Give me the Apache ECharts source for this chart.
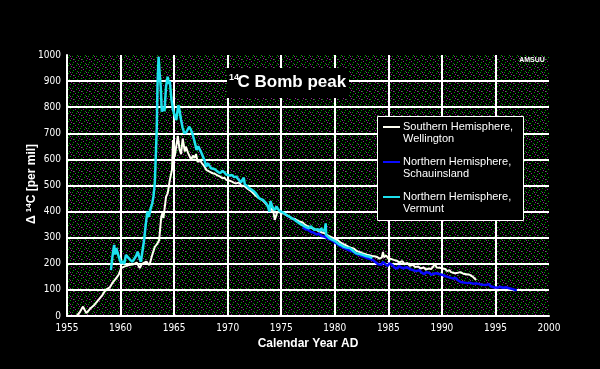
<!DOCTYPE html>
<html>
<head>
<meta charset="utf-8">
<script src="https://cdn.jsdelivr.net/npm/echarts@6/dist/echarts.min.js"></script>
<style>
html,body{margin:0;padding:0;background:#000;}
#c{width:600px;height:369px;}
</style>
</head>
<body>
<div id="c"></div>
<script>
// ---- Data ----
const wellingtonYears = [1955.9,1956.2,1956.5,1956.8,1957.0,1957.2,1957.5,1957.7,1958.0,1958.3,1958.6,1959.0,1959.3,1959.6,1959.85,1960.05,1960.4,1960.8,1961.2,1961.5,1961.8,1962.0,1962.4,1962.7,1963.0,1963.2,1963.4,1963.6,1963.8,1963.9,1964.0,1964.25,1964.4,1964.6,1964.8,1964.9,1965.05,1965.2,1965.35,1965.5,1965.65,1965.8,1966.0,1966.1,1966.3,1966.6,1966.75,1966.9,1967.05,1967.2,1967.4,1967.6,1967.8,1968.0,1968.15,1968.3,1968.45,1968.6,1968.8,1969.0,1969.15,1969.3,1969.5,1969.7,1969.85,1970.0,1970.2,1970.4,1970.6,1970.8,1970.95,1971.1,1971.25,1971.4,1971.55,1971.7,1971.85,1972.0,1972.2,1972.4,1972.6,1972.8,1973.0,1973.2,1973.4,1973.6,1973.8,1974.0,1974.2,1974.4,1974.6,1974.8,1975.0,1975.2,1975.4,1975.6,1975.8,1976.0,1976.3,1976.5,1976.7,1977.0,1977.2,1977.4,1977.6,1977.8,1978.0,1978.3,1978.5,1978.8,1979.0,1979.3,1979.5,1979.8,1980.0,1980.3,1980.5,1980.8,1981.0,1981.3,1981.5,1981.8,1982.0,1982.3,1982.5,1982.8,1983.0,1983.3,1983.5,1983.8,1984.0,1984.2,1984.4,1984.5,1984.6,1984.8,1985.0,1985.3,1985.5,1985.8,1986.0,1986.3,1986.5,1986.8,1987.0,1987.3,1987.5,1987.8,1988.0,1988.3,1988.5,1988.8,1989.0,1989.1,1989.2,1989.35,1989.5,1989.65,1989.8,1990.0,1990.3,1990.5,1990.7,1990.85,1991.0,1991.2,1991.5,1991.7,1992.0,1992.15,1992.3,1992.45,1992.6,1992.75,1992.9,1993.05,1993.2];
const wellingtonValues = [0,15,36,11,20,30,40,50,65,80,100,110,130,145,160,184,190,195,198,205,184,200,208,195,240,265,275,290,380,394,375,457,470,521,560,674,610,617,690,640,620,680,630,649,625,598,615,605,620,590,598,585,575,560,566,553,558,547,545,540,536,534,528,530,522,527,518,515,510,508,514,512,500,506,498,495,488,482,478,470,462,455,450,445,438,428,420,405,415,368,395,400,392,395,388,385,380,374,372,365,362,358,350,345,342,338,334,330,325,320,318,310,305,300,294,290,282,275,272,265,262,258,250,245,242,238,235,232,230,228,225,220,225,245,225,232,220,218,215,212,205,210,200,203,192,196,188,190,182,186,178,182,180,185,190,200,186,193,185,183,180,172,176,168,170,164,166,168,162,165,160,164,158,155,150,144,138,130];

const schauinslandYears = [1977.0,1977.3,1977.5,1977.8,1978.0,1978.3,1978.5,1978.8,1979.0,1979.3,1979.5,1979.8,1980.0,1980.3,1980.5,1980.8,1981.0,1981.3,1981.5,1981.8,1982.0,1982.3,1982.5,1982.8,1983.0,1983.3,1983.55,1983.75,1983.9,1984.05,1984.2,1984.35,1984.5,1984.65,1984.8,1984.95,1985.1,1985.25,1985.4,1985.55,1985.7,1985.85,1986.0,1986.2,1986.4,1986.55,1986.7,1986.85,1987.0,1987.15,1987.3,1987.45,1987.6,1987.75,1987.9,1988.05,1988.2,1988.35,1988.5,1988.65,1988.8,1989.0,1989.2,1989.35,1989.5,1989.65,1989.8,1989.95,1990.1,1990.25,1990.4,1990.55,1990.7,1990.85,1991.0,1991.15,1991.3,1991.45,1991.6,1991.75,1991.9,1992.05,1992.2,1992.4,1992.6,1992.75,1992.9,1993.05,1993.2,1993.35,1993.5,1993.65,1993.8,1993.95,1994.1,1994.25,1994.4,1994.55,1994.7,1994.85,1995.0,1995.2,1995.4,1995.55,1995.7,1995.85,1996.0,1996.15,1996.3,1996.45,1996.6,1996.8,1997.0];
const schauinslandValues = [340,332,330,322,320,312,315,306,305,298,295,288,282,274,268,262,258,252,250,244,238,234,230,226,222,218,215,208,205,198,202,196,208,200,198,192,202,196,195,186,189,182,192,186,183,178,187,180,180,174,176,170,172,166,176,168,164,160,168,162,166,158,162,156,164,160,160,154,157,150,152,146,148,142,144,140,146,138,136,130,131,128,134,126,128,122,124,120,125,118,122,116,120,114,119,116,122,114,115,110,114,108,112,106,108,104,110,104,106,100,103,100,100];

const vermuntYears = [1959.1,1959.25,1959.4,1959.5,1959.6,1959.7,1959.85,1960.05,1960.2,1960.35,1960.5,1960.7,1960.9,1961.1,1961.3,1961.45,1961.6,1961.75,1961.9,1962.05,1962.2,1962.35,1962.5,1962.65,1962.8,1962.95,1963.07,1963.2,1963.3,1963.38,1963.45,1963.55,1963.65,1963.75,1963.85,1964.0,1964.1,1964.25,1964.4,1964.5,1964.6,1964.75,1964.9,1965.05,1965.2,1965.3,1965.4,1965.5,1965.65,1965.8,1965.96,1966.15,1966.4,1966.55,1966.7,1966.9,1967.1,1967.25,1967.4,1967.55,1967.7,1967.85,1968.0,1968.15,1968.3,1968.45,1968.6,1968.8,1969.0,1969.15,1969.3,1969.5,1969.7,1969.85,1970.0,1970.2,1970.4,1970.6,1970.8,1970.95,1971.1,1971.25,1971.4,1971.5,1971.6,1971.8,1972.0,1972.25,1972.5,1972.7,1972.95,1973.1,1973.3,1973.45,1973.6,1973.75,1973.9,1974.0,1974.2,1974.4,1974.55,1974.7,1974.85,1975.0,1975.2,1975.4,1975.6,1975.8,1976.0,1976.2,1976.45,1976.7,1976.9,1977.1,1977.35,1977.6,1977.75,1977.9,1978.1,1978.25,1978.4,1978.5,1978.6,1978.7,1978.85,1979.0,1979.1,1979.15,1979.2,1979.35,1979.5,1979.65,1979.8,1979.95,1980.1,1980.25,1980.4,1980.6,1980.8,1980.95,1981.1,1981.25,1981.4,1981.55,1981.7,1981.85,1982.0,1982.15,1982.3,1982.45,1982.6,1982.75,1982.9,1983.05,1983.25,1983.5];
const vermuntValues = [176,230,272,235,260,253,225,202,210,200,234,225,215,208,220,230,246,225,208,250,291,350,400,380,410,430,457,510,624,720,885,993,930,878,783,800,785,880,917,890,900,830,789,770,751,780,808,790,751,720,700,705,725,715,700,670,636,650,645,625,610,595,572,585,579,566,560,562,555,548,547,556,550,542,547,538,540,532,534,526,520,512,508,530,505,498,489,484,476,466,451,458,445,440,432,420,400,440,415,406,420,410,402,400,396,390,384,380,374,370,362,355,350,345,340,336,344,340,330,323,332,330,326,335,328,325,338,355,310,305,298,294,292,286,285,278,275,272,266,268,262,258,260,256,250,252,240,244,238,236,234,232,230,226,227,222];

const seriesNames = ['Southern Hemisphere,\nWellington','Northern Hemisphere,\nSchauinsland','Northern Hemisphere,\nVermunt'];
const yTicks = {min:0, max:1000, interval:100};
const xTicks = {min:1955, max:2000, interval:5};

function pairs(xs, ys){ return xs.map((x,i)=>[x, ys[i]]); }

// dotted dark background pattern
const tile = document.createElement('canvas');
tile.width = 8; tile.height = 8;
const tc = tile.getContext('2d');
tc.fillStyle = '#000'; tc.fillRect(0,0,8,8);
tc.fillStyle = '#00a000';
[[0,0],[4,1],[2,3],[6,4],[1,6],[5,7]].forEach(p=>tc.fillRect(p[0],p[1],1,1));
tc.fillStyle = '#902890';
[[6,0],[3,5],[7,2],[1,3]].forEach(p=>tc.fillRect(p[0],p[1],1,1));

const FONT = '"Liberation Sans", Arial, sans-serif';
const NARROW = '"Liberation Sans Narrow", "DejaVu Sans Condensed", "Liberation Sans", sans-serif';
const colors = ['#fffff2','#0a0aff','#1ee0ee'];

const chart = echarts.init(document.getElementById('c'), null, {renderer:'canvas'});
chart.setOption({
  backgroundColor:'#000',
  animation:false,
  grid:{left:67, right:51, top:55, bottom:53, show:true, backgroundColor:{image:tile, repeat:'repeat'}, borderWidth:0},
  xAxis:{type:'value', min:xTicks.min, max:xTicks.max, interval:xTicks.interval,
    axisLine:{show:true, lineStyle:{color:'#fff', width:2}},
    axisTick:{show:false},
    axisLabel:{color:'#fff', fontFamily:NARROW, fontSize:10, margin:7, formatter:v=>String(v)},
    splitLine:{show:true, showMinLine:false, showMaxLine:false, lineStyle:{color:'#fff', width:2}}
  },
  yAxis:{type:'value', min:yTicks.min, max:yTicks.max, interval:yTicks.interval,
    axisLine:{show:true, lineStyle:{color:'#fff', width:2}},
    axisTick:{show:false},
    axisLabel:{color:'#fff', fontFamily:NARROW, fontSize:10, margin:6, formatter:v=>String(v)},
    splitLine:{show:true, showMinLine:false, showMaxLine:false, lineStyle:{color:'#fff', width:2}}
  },
  series:[
    {name:seriesNames[0], type:'line', data:pairs(wellingtonYears, wellingtonValues), showSymbol:false, symbol:'none', lineStyle:{color:colors[0], width:2}, z:3},
    {name:seriesNames[1], type:'line', data:pairs(schauinslandYears, schauinslandValues), showSymbol:false, symbol:'none', lineStyle:{color:colors[1], width:2.5}, z:4},
    {name:seriesNames[2], type:'line', data:pairs(vermuntYears, vermuntValues), showSymbol:false, symbol:'none', lineStyle:{color:colors[2], width:2.5}, z:5}
  ],
  graphic:[
    // title box
    {type:'rect', shape:{x:227, y:68, width:122, height:30}, style:{fill:'#000'}, z:100},
    {type:'text', x:229, y:78, style:{text:'14', fill:'#fff', font:'bold 9px '+FONT, verticalAlign:'middle', align:'left'}, z:101},
    {type:'text', x:237.5, y:82, style:{text:'C Bomb peak', fill:'#fff', font:'bold 17px '+FONT, verticalAlign:'middle', align:'left'}, z:101},
    // AMSUU mark
    {type:'text', x:532, y:60, style:{text:'AMSUU', fill:'#fff', font:'bold 7px '+FONT, verticalAlign:'middle', align:'center'}, z:101},
    // legend
    {type:'rect', shape:{x:377.5, y:116.5, width:146, height:104}, style:{fill:'#000', stroke:'#fff', lineWidth:1}, z:100},
    {type:'line', shape:{x1:383, y1:127, x2:400, y2:127}, style:{stroke:colors[0], lineWidth:2}, z:101},
    {type:'text', x:403, y:121, style:{text:seriesNames[0], fill:'#fff', font:'11px '+FONT, lineHeight:12, verticalAlign:'top'}, z:101},
    {type:'line', shape:{x1:383, y1:162, x2:400, y2:162}, style:{stroke:colors[1], lineWidth:2}, z:101},
    {type:'text', x:403, y:156, style:{text:seriesNames[1], fill:'#fff', font:'11px '+FONT, lineHeight:12, verticalAlign:'top'}, z:101},
    {type:'line', shape:{x1:383, y1:197, x2:400, y2:197}, style:{stroke:colors[2], lineWidth:2}, z:101},
    {type:'text', x:403, y:191, style:{text:seriesNames[2], fill:'#fff', font:'11px '+FONT, lineHeight:12, verticalAlign:'top'}, z:101},
    // axis titles
    {type:'text', x:308, y:344, style:{text:'Calendar Year AD', fill:'#fff', font:'bold 12px '+FONT, align:'center', verticalAlign:'middle'}, z:101},
    {type:'text', x:32, y:184, rotation:Math.PI/2, style:{
      text:'{a|Δ }{s|14}{a|C [per mil]}', align:'center', verticalAlign:'middle', fill:'#fff',
      rich:{a:{font:'bold 12px '+FONT, fill:'#fff', lineHeight:14}, s:{font:'bold 8px '+FONT, fill:'#fff', lineHeight:10, verticalAlign:'top'}}
    }, z:101}
  ]
});
</script>
</body>
</html>
